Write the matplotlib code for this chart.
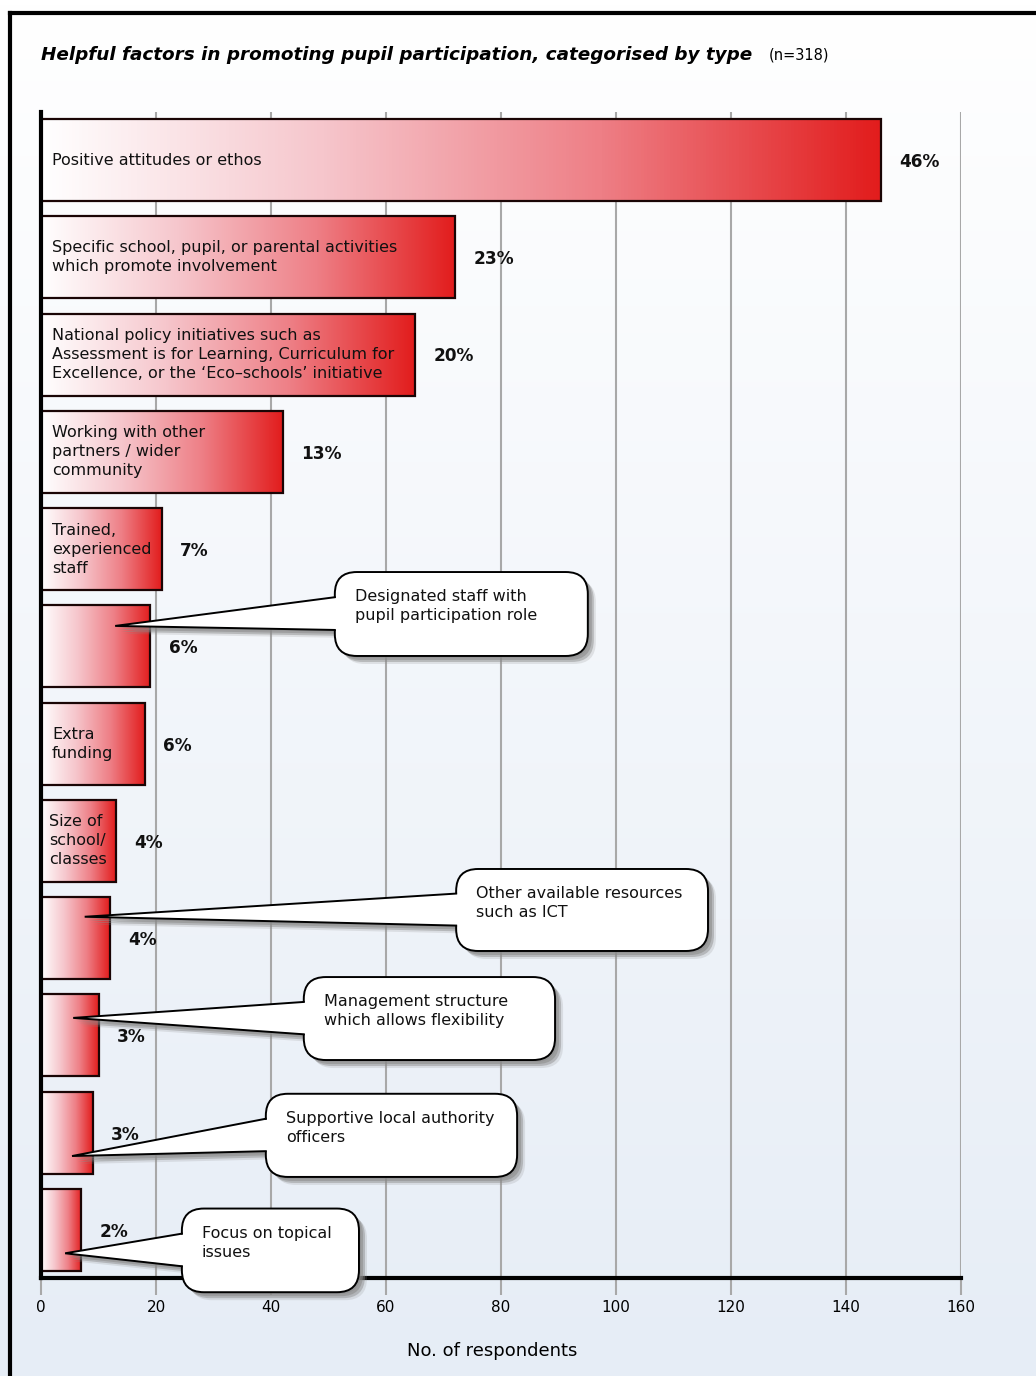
import numpy as np
import matplotlib
matplotlib.use("Agg")
import matplotlib.pyplot as plt
from matplotlib.colors import LinearSegmentedColormap
from matplotlib.patches import FancyBboxPatch, Polygon
from matplotlib.lines import Line2D
from matplotlib.transforms import ScaledTranslation

plt.rcParams['font.family'] = ['DejaVu Sans']

# ---- data -------------------------------------------------------------
categories = [
    "Positive attitudes or ethos",
    "Specific school, pupil, or parental activities\nwhich promote involvement",
    "National policy initiatives such as\nAssessment is for Learning, Curriculum for\nExcellence, or the \u2018Eco\u2013schools\u2019 initiative",
    "Working with other\npartners / wider\ncommunity",
    "Trained,\nexperienced\nstaff",
    "Designated staff with\npupil participation role",
    "Extra\nfunding",
    "Size of\nschool/\nclasses",
    "Other available resources\nsuch as ICT",
    "Management structure\nwhich allows flexibility",
    "Supportive local authority\nofficers",
    "Focus on topical\nissues",
]
respondents = [146, 72, 65, 42, 21, 19, 18, 13, 12, 10, 9, 7]
percent_labels = ["46%", "23%", "20%", "13%", "7%", "6%", "6%", "4%", "4%", "3%", "3%", "2%"]
# categories whose name sits in a callout rather than inside the bar
callout_items = [5, 8, 9, 10, 11]
x_ticks = [0, 20, 40, 60, 80, 100, 120, 140, 160]

title = "Helpful factors in promoting pupil participation, categorised by type"
sample_note = "(n=318)"
x_label = "No. of respondents"

# ---- figure -----------------------------------------------------------
W, H = 1036, 1376
fig = plt.figure(figsize=(W / 100, H / 100), dpi=100)

# soft white-to-blue page background
bg = fig.add_axes([0, 0, 1, 1], zorder=-10)
top_c = np.array([1.0, 1.0, 1.0])
bot_c = np.array([0xe6, 0xed, 0xf6]) / 255
t = np.linspace(0, 1, 256)[:, None]
grad_bg = top_c[None, :] * (1 - t) + bot_c[None, :] * t
bg.imshow(grad_bg[:, None, :], aspect='auto', extent=(0, 1, 0, 1))
bg.set_xlim(0, 1); bg.set_ylim(0, 1)
bg.axis('off')

# page frame (top and left)
fig.add_artist(Line2D([10 / W, 1], [1 - 13 / H, 1 - 13 / H], color='black', lw=3,
                      transform=fig.transFigure))
fig.add_artist(Line2D([10 / W, 10 / W], [1 - 13 / H, 0], color='black', lw=3,
                      transform=fig.transFigure))

ax = fig.add_axes([41 / W, 1 - 1278 / H, 920 / W, 1166 / H])
ax.set_facecolor('none')

n = len(respondents)
ypos = np.arange(n)
bar_h = 0.843

bars = ax.barh(ypos, respondents, height=bar_h, color='none',
               edgecolor='#1a0505', linewidth=1.6, zorder=3)

cmap = LinearSegmentedColormap.from_list(
    "redfade", ["#ffffff", "#f6c6cc", "#ee7f86", "#e21d1d"], N=256)
grad = np.linspace(0, 1, 256)[None, :]
for b in bars:
    x0, y0 = b.get_x(), b.get_y()
    w, h = b.get_width(), b.get_height()
    im = ax.imshow(grad, cmap=cmap, aspect='auto', interpolation='bilinear',
                   extent=(x0, x0 + w, y0 + h, y0), zorder=2)
    im.set_clip_path(b)

label_fs = 11.5
label_ls = 1.33

# labels inside the bars
for i, (name, v) in enumerate(zip(categories, respondents)):
    if i in callout_items:
        continue
    ax.text(1.9 if i != 7 else 1.4, i, name, ha='left', va='center',
            fontsize=label_fs, color='#111111', linespacing=label_ls, zorder=4)

# percentage labels
for i, (v, p) in enumerate(zip(respondents, percent_labels)):
    ax.text(v + 3.2, i + 0.02, p, ha='left', va='center', fontsize=12.2,
            fontweight='bold', color='#111111', zorder=4)

# ---- callouts ---------------------------------------------------------
# (item, box left, box right, box top offset, box bottom offset, tip x, tip y offset)
callout_layout = [
    (5, 51.1, 95.1, -0.764, 0.099, 12.9, -0.21),
    (8, 72.2, 116.0, -0.711, 0.132, 7.6, -0.22),
    (9, 45.7, 89.4, -0.600, 0.253, 5.6, -0.18),
    (10, 39.1, 82.8, -0.400, 0.455, 5.4, 0.24),
    (11, 24.5, 55.3, -0.220, 0.640, 4.2, 0.24),
]
px_x = 160 / 920.0          # data units per pixel, x
px_y = (11.494 + 0.4935) / 1166.0  # data units per pixel, y
r_px = 22
for (i, bx0, bx1, dt, db, tipx, tipdy) in callout_layout:
    ytop, ybot = i + dt, i + db
    bh = ybot - ytop
    tip = (tipx, i + tipdy)
    b1 = ytop + 0.30 * bh
    b2 = ytop + 0.69 * bh
    box_kw = dict(boxstyle=f"round,pad=0,rounding_size={r_px * px_x}",
                  mutation_aspect=px_y / px_x)
    wedge_pts = [tip, (bx0 + 6 * px_x, b1), (bx0 + 6 * px_x, b2)]
    # soft drop shadow
    for off, a in [(2, 0.45), (4, 0.55), (6, 0.45), (8, 0.2)]:
        tr = ax.transData + ScaledTranslation(off / 100, -off / 100, fig.dpi_scale_trans)
        ax.add_patch(FancyBboxPatch((bx0, ytop), bx1 - bx0, bh, facecolor='#8a8a8a',
                                    edgecolor='none', alpha=a, transform=tr,
                                    zorder=5, clip_on=False, **box_kw))
        ax.add_patch(Polygon(wedge_pts, closed=True, facecolor='#8a8a8a',
                             edgecolor='none', alpha=a, transform=tr, zorder=5,
                             clip_on=False))
    ax.add_patch(FancyBboxPatch((bx0, ytop), bx1 - bx0, bh, facecolor='white',
                                edgecolor='black', linewidth=1.4, zorder=6,
                                clip_on=False, **box_kw))
    ax.add_patch(Polygon(wedge_pts, closed=True, facecolor='white',
                         edgecolor='none', zorder=7, clip_on=False))
    ax.plot([bx0, tip[0], bx0], [b1, tip[1], b2], color='black', lw=1.4,
            zorder=7, clip_on=False, solid_joinstyle='miter')
    ax.text(bx0 + 20 * px_x, ytop + 34 * px_y, categories[i], ha='left', va='center',
            fontsize=label_fs, color='#111111', linespacing=label_ls, zorder=8)

# ---- axes styling -----------------------------------------------------
ax.set_xlim(0, 160)
ax.set_ylim(11.494, -0.4935)
ax.set_xticks(x_ticks)
ax.set_xticklabels([str(x) for x in x_ticks], fontsize=11)
ax.set_yticks([])
ax.grid(axis='x', color='#a8a8a8', linewidth=1.5, zorder=0.5)
ax.set_axisbelow(True)
ax.tick_params(axis='x', length=12, width=1.5, color='#a8a8a8', pad=4)
for s in ['top', 'right']:
    ax.spines[s].set_visible(False)
ax.spines['left'].set_linewidth(3)
ax.spines['bottom'].set_linewidth(3)
ax.spines['left'].set_zorder(4)
ax.spines['bottom'].set_zorder(4)
ax.set_xlabel(x_label, fontsize=13)
ax.xaxis.set_label_coords(0.49, -(1351 - 1278) / 1166, transform=ax.transAxes)
ax.xaxis.label.set_va('center')

fig.text(41 / W, 1 - 55 / H, title, fontsize=13.2, fontweight='bold',
         fontstyle='italic', ha='left', va='center')
fig.text(769 / W, 1 - 55 / H, sample_note, fontsize=10.5, ha='left', va='center')

fig.savefig("out.png", dpi=100)
